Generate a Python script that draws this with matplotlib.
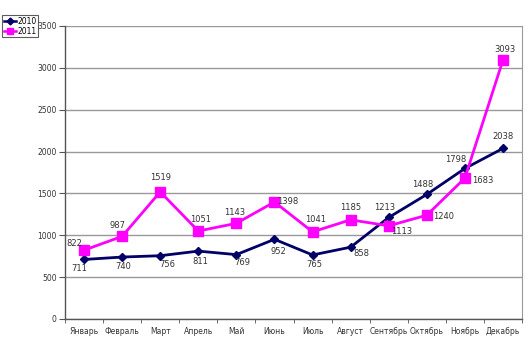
import matplotlib
matplotlib.use("Agg")
import matplotlib.pyplot as plt
from matplotlib.lines import Line2D

months = ["Январь", "Февраль", "Март", "Апрель", "Май", "Июнь", "Июль",
          "Август", "Сентябрь", "Октябрь", "Ноябрь", "Декабрь"]
s2010 = [711, 740, 756, 811, 769, 952, 765, 858, 1213, 1488, 1798, 2038]
s2011 = [822, 987, 1519, 1051, 1143, 1398, 1041, 1185, 1113, 1240, 1683, 3093]
yticks = [0, 500, 1000, 1500, 2000, 2500, 3000, 3500]

# label offsets in pixels (dx, dy; dy positive = down on screen)
off2010 = [(-5, 9), (1, 9), (7, 9), (2, 10), (6, 8), (4, 12), (2, 10),
           (11, 6), (-4, -10), (-4, -10), (-9, -9), (0, -12)]
off2011 = [(-10, -7), (-5, -11), (0, -14), (2, -12), (-2, -11), (13, 0),
           (3, -12), (0, -12), (13, 6), (17, 1), (18, 2), (2, -11)]

c2010 = "#000066"
c2011 = "#FF00FF"

fig = plt.figure(figsize=(5.3, 3.54), dpi=100)
ax = fig.add_axes([65/530, 1 - 319/354, (522 - 65)/530, (319 - 26)/354])

x = list(range(len(months)))
ax.plot(x, s2010, color=c2010, lw=2, marker="D", ms=4, zorder=3)
ax.plot(x, s2011, color=c2011, lw=2, marker="s", ms=7, zorder=3)

for xi, v, (dx, dy) in zip(x, s2010, off2010):
    ax.annotate(str(v), (xi, v), xytext=(dx, -dy), textcoords="offset pixels",
                ha="center", va="center", fontsize=6, color="#333333")
for xi, v, (dx, dy) in zip(x, s2011, off2011):
    ax.annotate(str(v), (xi, v), xytext=(dx, -dy), textcoords="offset pixels",
                ha="center", va="center", fontsize=6, color="#333333")

ax.set_xlim(-0.5, 11.5)
ax.set_ylim(0, 3500)
ax.set_yticks(yticks)
ax.set_yticklabels([str(t) for t in yticks], fontsize=5.5, color="#333333")
ax.set_xticks(x)
ax.set_xticklabels(months, fontsize=5.5, color="#333333")
ax.tick_params(axis="x", length=0, pad=6)
ax.set_xticks([i - 0.5 for i in range(13)], minor=True)
ax.tick_params(axis="x", which="minor", length=3, direction="out", color="#555555")
ax.tick_params(axis="y", length=4, direction="out", color="#555555", pad=2)

ax.grid(axis="y", color="#999999", lw=1)
ax.set_axisbelow(True)
for side in ["left", "bottom"]:
    ax.spines[side].set_color("#555555")
    ax.spines[side].set_linewidth(1)
ax.spines["top"].set_visible(False)
ax.spines["right"].set_color("#999999")

handles = [Line2D([0], [0], color=c2010, lw=1.8, marker="D", ms=3.5),
           Line2D([0], [0], color=c2011, lw=1.8, marker="s", ms=5)]
leg = fig.legend(handles, ["2010", "2011"], loc="upper left",
                 bbox_to_anchor=(2/530, 1 - 15/354), fontsize=5.5,
                 frameon=True, fancybox=False, edgecolor="#333333",
                 handlelength=1.6, handletextpad=0.2, borderpad=0.2,
                 labelspacing=0.15, borderaxespad=0)
leg.get_frame().set_linewidth(0.8)

fig.savefig("out.png", dpi=100)
